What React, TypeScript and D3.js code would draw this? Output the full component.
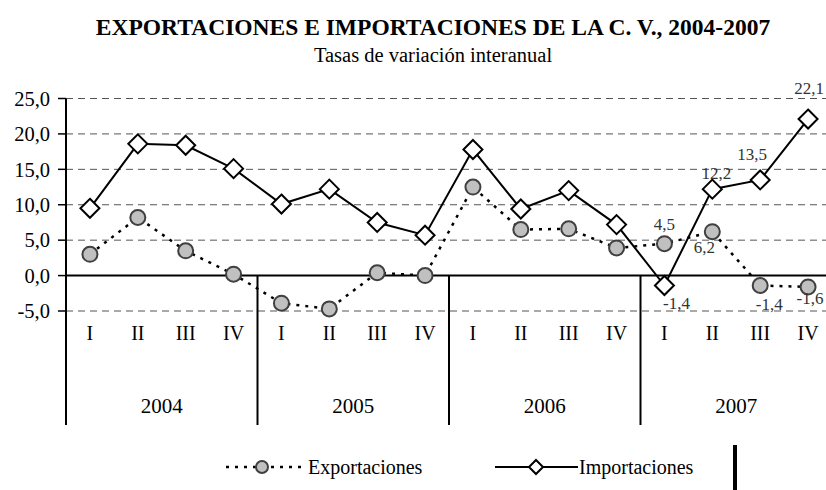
import { useEffect, useRef } from 'react';
import * as d3 from 'd3';

const years = ['2004', '2005', '2006', '2007'];
const quarters = ['I', 'II', 'III', 'IV'];
const exportaciones = [3.0, 8.2, 3.5, 0.2, -3.9, -4.7, 0.4, 0.0, 12.5, 6.5, 6.6, 3.9, 4.5, 6.2, -1.4, -1.6];
const importaciones = [9.5, 18.6, 18.4, 15.1, 10.1, 12.2, 7.5, 5.7, 17.8, 9.4, 12.0, 7.2, -1.4, 12.2, 13.5, 22.1];
const yTicks = [-5, 0, 5, 10, 15, 20, 25];
// labelled points (index, dx, dy)
const expLabels = [[12, 0, -20], [13, -8, 15], [14, 9, 19], [15, 2, 11]];
const impLabels = [[12, 12, 18], [13, 4, -16], [14, -8, -26], [15, 1, -31]];

const FONT = '"Liberation Serif", "Times New Roman", serif';
const fmt = (v: number) => v.toFixed(1).replace('.', ',');

export default function App() {
  const svgRef = useRef<SVGSVGElement | null>(null);

  useEffect(() => {
    const svg = d3.select(svgRef.current);
    svg.selectAll('*').remove();
    svg.attr('width', 826).attr('height', 490).style('font-family', FONT);

    const keys = years.flatMap(y => quarters.map(q => `${y}-${q}`));
    const x = d3.scaleBand().domain(keys).range([66, 832]);
    const y = d3.scaleLinear().domain([-5, 25]).range([311, 98.5]);
    const cx = (i: number) => (x(keys[i]) as number) + x.bandwidth() / 2;

    // Titles
    svg.append('text').attr('x', 433).attr('y', 35).attr('text-anchor', 'middle')
      .attr('font-size', 23.5).attr('font-weight', 700).text('EXPORTACIONES E IMPORTACIONES DE LA C. V., 2004-2007');
    svg.append('text').attr('x', 433).attr('y', 62).attr('text-anchor', 'middle')
      .attr('font-size', 20.5).text('Tasas de variación interanual');

    // Grid lines
    svg.selectAll('.grid').data(yTicks.filter(t => t !== 0)).join('line')
      .attr('x1', 66).attr('x2', 832).attr('y1', d => y(d)).attr('y2', d => y(d))
      .attr('stroke', '#555').attr('stroke-width', 1).attr('stroke-dasharray', '7,5');

    // Y ticks + labels
    svg.selectAll('.ytick').data(yTicks).join('line')
      .attr('x1', 58).attr('x2', 66).attr('y1', d => y(d)).attr('y2', d => y(d))
      .attr('stroke', '#000').attr('stroke-width', 1.5);
    svg.selectAll('.ylab').data(yTicks).join('text')
      .attr('x', 50).attr('y', d => y(d)).attr('dy', '0.35em').attr('text-anchor', 'end')
      .attr('font-size', 20.5).text(d => fmt(d));

    // Axes
    svg.append('line').attr('x1', 66).attr('x2', 832).attr('y1', y(0)).attr('y2', y(0))
      .attr('stroke', '#000').attr('stroke-width', 2);
    svg.append('line').attr('x1', 66).attr('x2', 66).attr('y1', y(25)).attr('y2', 425)
      .attr('stroke', '#000').attr('stroke-width', 2);
    years.slice(1).forEach(yr => {
      const xs = x(`${yr}-I`) as number;
      svg.append('line').attr('x1', xs).attr('x2', xs).attr('y1', y(0)).attr('y2', 425)
        .attr('stroke', '#000').attr('stroke-width', 2);
    });

    // Quarter labels
    svg.selectAll('.qlab').data(keys).join('text')
      .attr('x', (_, i) => cx(i)).attr('y', 340).attr('text-anchor', 'middle')
      .attr('font-size', 20).text(d => d.split('-')[1]);
    // Year labels
    svg.selectAll('.ylab2').data(years).join('text')
      .attr('x', d => (x(`${d}-I`) as number) + x.bandwidth() * 2).attr('y', 413)
      .attr('text-anchor', 'middle').attr('font-size', 21).text(d => d);

    // Lines
    const line = d3.line<number>().x((_, i) => cx(i)).y(d => y(d));
    svg.append('path').attr('d', line(exportaciones)).attr('fill', 'none')
      .attr('stroke', '#000').attr('stroke-width', 2.5).attr('stroke-dasharray', '3,6');
    svg.append('path').attr('d', line(importaciones)).attr('fill', 'none')
      .attr('stroke', '#000').attr('stroke-width', 2);

    const diamond = (px: number, py: number, r = 9.5) =>
      `M${px},${py - r}L${px + r},${py}L${px},${py + r}L${px - r},${py}Z`;

    svg.selectAll('.exp').data(exportaciones).join('circle')
      .attr('cx', (_, i) => cx(i)).attr('cy', d => y(d)).attr('r', 7.5)
      .attr('fill', '#c0c0c0').attr('stroke', '#404040').attr('stroke-width', 2);
    svg.selectAll('.imp').data(importaciones).join('path')
      .attr('d', (d, i) => diamond(cx(i), y(d)))
      .attr('fill', '#fff').attr('stroke', '#000').attr('stroke-width', 2);

    // Data labels
    const addLabels = (vals: number[], specs: number[][]) => {
      specs.forEach(([i, dx, dy]) => {
        svg.append('text').attr('x', cx(i) + dx).attr('y', y(vals[i]) + dy).attr('dy', '0.35em')
          .attr('text-anchor', 'middle').attr('font-size', 17).attr('fill', '#333')
          .text(fmt(vals[i]));
      });
    };
    addLabels(exportaciones, expLabels);
    addLabels(importaciones, impLabels);

    // Legend
    const ly = 467;
    svg.append('line').attr('x1', 226).attr('x2', 304).attr('y1', ly).attr('y2', ly)
      .attr('stroke', '#000').attr('stroke-width', 2.5).attr('stroke-dasharray', '3,6');
    svg.append('circle').attr('cx', 262).attr('cy', ly).attr('r', 6)
      .attr('fill', '#c0c0c0').attr('stroke', '#404040').attr('stroke-width', 2);
    svg.append('text').attr('x', 308).attr('y', ly).attr('dy', '0.35em')
      .attr('font-size', 20).text('Exportaciones');
    svg.append('line').attr('x1', 495).attr('x2', 578).attr('y1', ly).attr('y2', ly)
      .attr('stroke', '#000').attr('stroke-width', 2);
    svg.append('path').attr('d', diamond(536, ly, 7))
      .attr('fill', '#fff').attr('stroke', '#000').attr('stroke-width', 2);
    svg.append('text').attr('x', 579).attr('y', ly).attr('dy', '0.35em')
      .attr('font-size', 20).text('Importaciones');
    svg.append('rect').attr('x', 733).attr('y', 445).attr('width', 4).attr('height', 45).attr('fill', '#000');
  }, []);

  return (
    <div style={{ position: 'absolute', left: 0, top: 0 }}>
      <svg ref={svgRef} style={{ display: 'block' }} />
    </div>
  );
}
